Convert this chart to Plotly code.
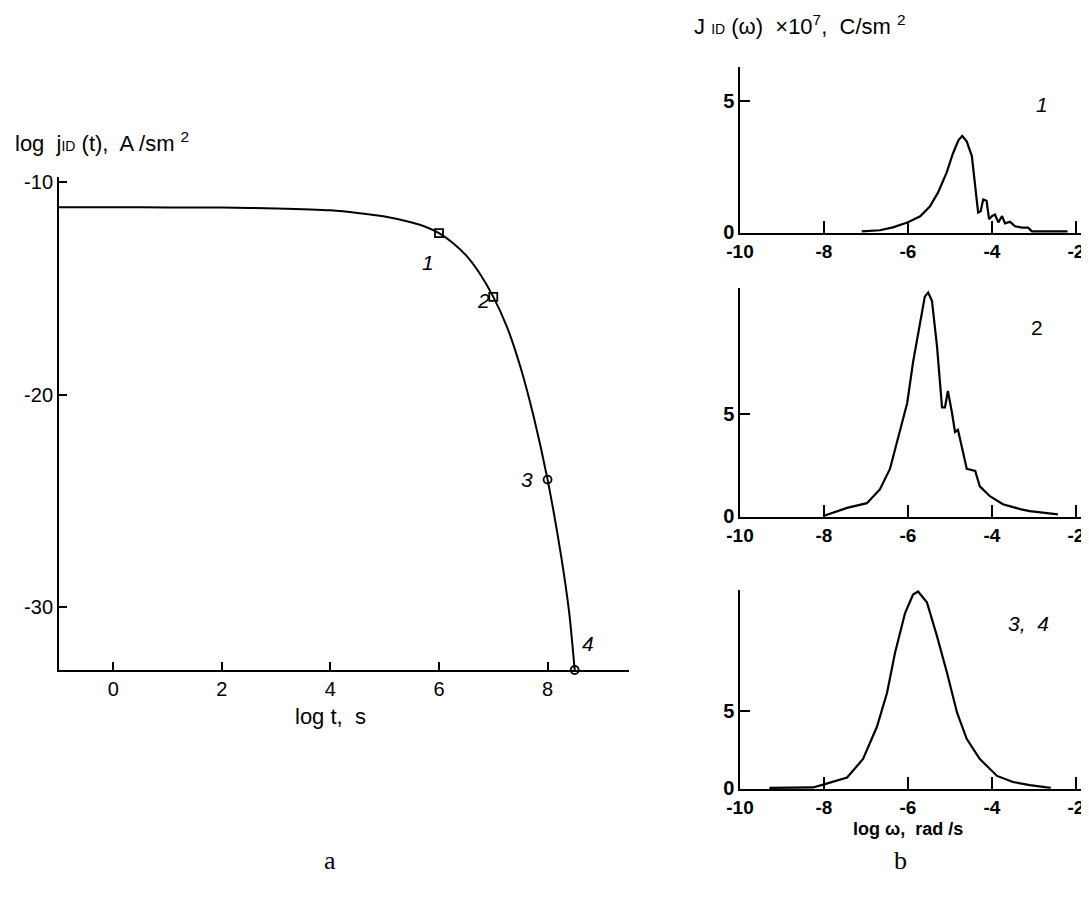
import plotly.graph_objects as go

# ---------- data: panel a ----------
logt = [-1.0, 0.0, 1.0, 2.0, 3.0, 4.0, 4.5, 5.0, 5.5, 5.75, 6.0, 6.25, 6.5, 6.75, 7.0, 7.25, 7.5,
        7.75, 8.0, 8.25, 8.4, 8.5]
logj = [-11.18, -11.18, -11.19, -11.2, -11.24, -11.33, -11.45, -11.62, -11.9, -12.1, -12.4, -12.85,
        -13.45, -14.3, -15.4, -16.8, -18.7, -21.1, -24.0, -27.6, -30.3, -32.96]
mark_t = [6.0, 7.0, 8.0, 8.5]
mark_j = [-12.4, -15.4, -24.0, -32.96]
mark_lbl = ["1", "2", "3", "4"]

# ---------- data: panel b ----------
w1 = [-7.1, -6.67, -6.36, -6.0, -5.71, -5.48, -5.29, -5.08, -4.93, -4.8, -4.71, -4.6, -4.48,
      -4.4, -4.33, -4.27, -4.21, -4.13, -4.07, -4.0, -3.93, -3.85, -3.76, -3.69, -3.57, -3.45,
      -3.29, -3.14, -3.05, -2.2]
J1 = [0.04, 0.08, 0.19, 0.38, 0.61, 0.98, 1.5, 2.27, 3.0, 3.5, 3.67, 3.45, 2.9,
      1.75, 0.75, 0.8, 1.25, 1.2, 0.5, 0.62, 0.68, 0.38, 0.62, 0.34, 0.4, 0.23,
      0.18, 0.18, 0.04, 0.04]

w2 = [-8.0, -7.45, -6.98, -6.67, -6.43, -6.26, -6.12, -6.02, -5.88, -5.71, -5.6, -5.52,
      -5.43, -5.31, -5.24, -5.19, -5.12, -5.05, -4.95, -4.88, -4.81, -4.71, -4.6, -4.4,
      -4.29, -4.05, -3.74, -3.33, -3.1, -2.43]
J2 = [0.02, 0.4, 0.63, 1.3, 2.3, 3.6, 4.7, 5.5, 7.5, 9.4, 10.7, 10.9,
      10.5, 8.3, 6.3, 5.3, 5.3, 6.1, 5.0, 4.1, 4.2, 3.25, 2.3, 2.2,
      1.45, 0.97, 0.58, 0.34, 0.24, 0.08]

w3 = [-9.3, -8.26, -8.0, -7.45, -7.07, -6.74, -6.5, -6.31, -6.07, -5.88, -5.76, -5.55,
      -5.31, -5.07, -4.83, -4.6, -4.29, -3.88, -3.5, -3.1, -2.69, -2.6]
J3 = [0.02, 0.05, 0.25, 0.7, 1.9, 4.0, 6.2, 8.8, 11.4, 12.6, 12.8, 12.1,
      9.9, 7.5, 4.9, 3.2, 1.9, 0.8, 0.4, 0.2, 0.05, 0.03]

panel_lbl = ["<i>1</i>", "2", "<i>3,  4</i>"]
xa_ticks = [0, 2, 4, 6, 8]
ya_ticks = [-10, -20, -30]
xb_ticks = [-10, -8, -6, -4, -2]
yb_ticks = [0, 5]

W, H = 1089, 910
OFF = 8  # page body margin
FONT = "Liberation Sans, Arial, sans-serif"


def px(x):
    return (x - OFF) / W


def py(y):
    return 1 - (y - OFF) / H


fig = go.Figure()

# panel a
fig.add_trace(go.Scatter(x=logt, y=logj, mode="lines",
                         line=dict(color="black", width=2, shape="spline", smoothing=0.6),
                         xaxis="x", yaxis="y", showlegend=False))
fig.add_trace(go.Scatter(x=mark_t, y=mark_j, mode="markers",
                         marker=dict(symbol=["square-open", "square-open", "circle-open", "circle-open"],
                                     size=8, color="black", line=dict(width=1.8, color="black")),
                         cliponaxis=False, xaxis="x", yaxis="y", showlegend=False))

# panel b
for i, (wx, jy) in enumerate([(w1, J1), (w2, J2), (w3, J3)]):
    fig.add_trace(go.Scatter(x=wx, y=jy, mode="lines", line=dict(color="black", width=2.2),
                             xaxis=f"x{i+2}", yaxis=f"y{i+2}", showlegend=False))

axis_common = dict(showgrid=False, zeroline=False, showline=True, linecolor="black",
                   ticks="inside", tickcolor="black", mirror=False, automargin=False)

layout = dict(
    width=W, height=H, margin=dict(l=0, r=0, t=0, b=0, autoexpand=False),
    paper_bgcolor="white", plot_bgcolor="white",
    font=dict(family=FONT, color="black", size=18),
    xaxis=dict(axis_common, domain=[px(59), px(629)], range=[-1.0, 9.5], linewidth=2,
               tickwidth=2, ticklen=8, anchor="y",
               tickvals=xa_ticks, ticktext=[str(v) for v in xa_ticks],
               tickfont=dict(size=20)),
    yaxis=dict(axis_common, domain=[py(670), py(177)], range=[-32.96, -9.76], linewidth=2,
               tickwidth=2, ticklen=8, anchor="x",
               tickvals=ya_ticks, ticktext=[str(v) for v in ya_ticks],
               tickfont=dict(size=20)),
)

right_dom = [px(740), px(1082)]
pan_y = [(233, 67, 6.29), (517, 288, 11.12), (789, 590, 12.9)]
for i, (yb, yt, ymax) in enumerate(pan_y):
    n = i + 2
    layout[f"xaxis{n}"] = dict(axis_common, domain=right_dom, range=[-10, -1.857], linewidth=1.5,
                               tickwidth=1.5, ticklen=12, anchor=f"y{n}",
                               tickvals=xb_ticks, ticktext=[f"<b>{v}</b>" for v in xb_ticks],
                               tickfont=dict(size=19))
    ymin = -ymax * 0.004
    layout[f"yaxis{n}"] = dict(axis_common, domain=[py(yb), py(yt)], range=[ymin, ymax], linewidth=1.5,
                               tickwidth=1.5, ticklen=10, anchor=f"x{n}",
                               tickvals=yb_ticks, ticktext=[f"<b>{v}</b>" for v in yb_ticks],
                               tickfont=dict(size=20))

fig.update_layout(**layout)

ann = []
# axis titles
ann.append(dict(x=px(13), y=py(142), xref="paper", yref="paper", xanchor="left", yanchor="middle",
                text="log  j<span style='font-size:14px'>ID</span> (t),  A /sm <sup>2</sup>",
                showarrow=False, font=dict(size=22)))
ann.append(dict(x=px(330), y=py(716), xref="paper", yref="paper", xanchor="center", yanchor="middle",
                text="log t,  s", showarrow=False, font=dict(size=22)))
ann.append(dict(x=px(692), y=py(25), xref="paper", yref="paper", xanchor="left", yanchor="middle",
                text="J <span style='font-size:14px'>ID</span> (ω)  ×10<sup>7</sup>,  C/sm <sup>2</sup>",
                showarrow=False, font=dict(size=22)))
ann.append(dict(x=px(908), y=py(829), xref="paper", yref="paper", xanchor="center", yanchor="middle",
                text="<b>log ω,  rad /s</b>", showarrow=False, font=dict(size=18)))
ann.append(dict(x=px(330), y=py(860), xref="paper", yref="paper", xanchor="center", yanchor="middle",
                text="a", showarrow=False, font=dict(size=26, family="Liberation Serif, Times New Roman, serif")))
ann.append(dict(x=px(900), y=py(860), xref="paper", yref="paper", xanchor="center", yanchor="middle",
                text="b", showarrow=False, font=dict(size=26, family="Liberation Serif, Times New Roman, serif")))

# marker labels (panel a)
lbl_pos = [(428, 262), (483, 300), (527, 479), (588, 643)]
for (lx, ly), t in zip(lbl_pos, mark_lbl):
    ann.append(dict(x=px(lx), y=py(ly), xref="paper", yref="paper", xanchor="center", yanchor="middle",
                    text=f"<i>{t}</i>", showarrow=False, font=dict(size=21)))

# panel labels (panel b)
pl_pos = [(1042, 105), (1037, 327), (1028, 623)]
for (lx, ly), t in zip(pl_pos, panel_lbl):
    ann.append(dict(x=px(lx), y=py(ly), xref="paper", yref="paper", xanchor="center", yanchor="middle",
                    text=t, showarrow=False, font=dict(size=21)))

fig.update_layout(annotations=ann)
fig.write_html("out.html")
